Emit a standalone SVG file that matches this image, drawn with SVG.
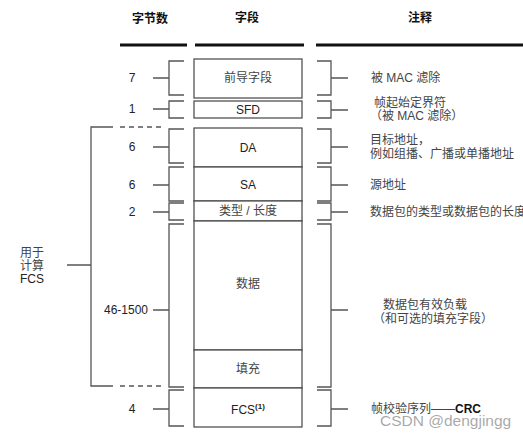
<svg xmlns="http://www.w3.org/2000/svg" width="523" height="438" viewBox="0 0 523 438">
<style>
.hd{font-family:"Noto Sans CJK SC","Liberation Sans",sans-serif;font-size:12px;font-weight:bold;fill:#111;text-anchor:middle}
.cn{font-family:"Liberation Sans","Noto Sans CJK SC",sans-serif;font-size:12px;fill:#444}
.lt{font-family:"Liberation Sans","Noto Sans CJK SC",sans-serif;font-size:12px;fill:#222}
.mid{text-anchor:middle}
.box{fill:#fff;stroke:#444;stroke-width:1.2}
.br{fill:none;stroke:#555;stroke-width:1.3}
.thick{stroke:#111;stroke-width:3}
.dash{stroke:#555;stroke-width:1.3;stroke-dasharray:5,4}
</style>
<rect width="523" height="438" fill="#fff"/>
<g id="header">
<text class="hd" x="150" y="23">字节数</text>
<text class="hd" x="247" y="22">字段</text>
<text class="hd" x="420" y="22">注释</text>
<line class="thick" x1="120" y1="45" x2="187" y2="45"/>
<line class="thick" x1="195" y1="45" x2="304" y2="45"/>
<line class="thick" x1="316" y1="45" x2="523" y2="45"/>
</g>
<g id="preamble">
<rect class="box" x="194" y="59" width="108" height="39"/>
<text class="cn mid" x="248" y="82">前导字段</text>
</g>
<g id="sfd">
<rect class="box" x="194" y="101" width="108" height="17"/>
<text class="lt mid" x="248" y="114">SFD</text>
</g>
<g id="da">
<rect class="box" x="194" y="128" width="108" height="39"/>
<text class="lt mid" x="248" y="152">DA</text>
</g>
<g id="sa">
<rect class="box" x="194" y="167" width="108" height="34"/>
<text class="lt mid" x="248" y="189">SA</text>
</g>
<g id="type">
<rect class="box" x="194" y="201" width="108" height="20"/>
<text class="cn mid" x="248" y="215">类型 / 长度</text>
</g>
<g id="data">
<rect class="box" x="194" y="221" width="108" height="129"/>
<text class="cn mid" x="248" y="288">数据</text>
</g>
<g id="pad">
<rect class="box" x="194" y="350" width="108" height="38"/>
<text class="cn mid" x="248" y="373">填充</text>
</g>
<g id="fcs">
<rect class="box" x="194" y="388" width="108" height="39"/>
<text class="lt mid" x="248" y="414">FCS<tspan font-size="8" font-weight="bold" dy="-5">(1)</tspan></text>
</g>
<g id="connectors">
<path class="br" d="M184,61H169V95H184M153,78H169"/>
<path class="br" d="M184,101H169V118H184M153,109H169"/>
<path class="br" d="M184,129H169V163H184M153,147H169"/>
<path class="br" d="M184,167H169V201H184M153,185H169"/>
<path class="br" d="M184,203H169V220H184M153,212H169"/>
<path class="br" d="M184,224H169V387H184M153,310H169"/>
<path class="br" d="M184,390H169V426H184M153,409H169"/>
<path class="br" d="M317,61H331V95H317M331,78H348"/>
<path class="br" d="M317,101H331V118H317M331,110H348"/>
<path class="br" d="M317,129H331V163H317M331,147H348"/>
<path class="br" d="M317,167H331V201H317M331,185H348"/>
<path class="br" d="M317,203H331V220H317M331,212H348"/>
<path class="br" d="M317,224H331V387H317M331,310H348"/>
<path class="br" d="M317,390H331V426H317M331,409H348"/>
<path class="br" d="M113,127H91V386H113M67,265H91"/>
<line class="dash" x1="120" y1="127" x2="163" y2="127"/>
<line class="dash" x1="120" y1="386" x2="163" y2="386"/>
</g>
<g id="counts">
<text class="lt mid" x="132" y="82">7</text>
<text class="lt mid" x="132" y="113">1</text>
<text class="lt mid" x="132" y="151">6</text>
<text class="lt mid" x="132" y="189">6</text>
<text class="lt mid" x="132" y="216">2</text>
<text class="lt" x="148" y="314" text-anchor="end">46-1500</text>
<text class="lt mid" x="132" y="413">4</text>
</g>
<g id="fcs-label">
<text class="cn mid" x="32" y="257">用于</text>
<text class="cn mid" x="32" y="270">计算</text>
<text class="lt mid" x="32" y="283">FCS</text>
</g>
<g id="notes">
<text class="cn" x="371" y="82">被 MAC 滤除</text>
<text class="cn" x="374" y="107">帧起始定界符</text>
<text class="cn" x="370" y="120">（被 MAC 滤除）</text>
<text class="cn" x="370" y="144">目标地址，</text>
<text class="cn" x="370" y="158">例如组播、广播或单播地址</text>
<text class="cn" x="370" y="189">源地址</text>
<text class="cn" x="370" y="216">数据包的类型或数据包的长度</text>
<text class="cn" x="383" y="309">数据包有效负载</text>
<text class="cn" x="373" y="323">（和可选的填充字段）</text>
<text class="cn" x="371" y="413">帧校验序列——<tspan fill="#111" font-weight="bold">CRC</tspan></text>
</g>
<text x="380" y="426" font-family="'Liberation Sans',sans-serif" font-size="15.5" fill="#999" fill-opacity="0.85">CSDN @dengjingg</text>
</svg>
